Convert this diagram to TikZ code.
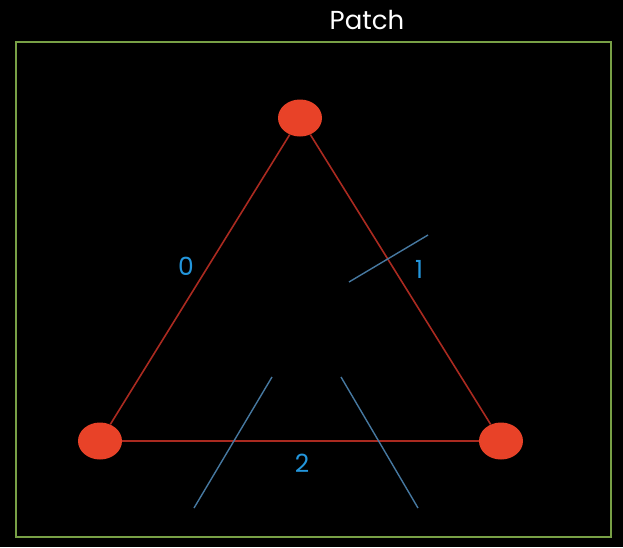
\documentclass[tikz,border=0pt]{standalone}
\usepackage{fontspec}
\setmainfont{Poppins}
\usetikzlibrary{shapes.geometric}
\definecolor{frame}{RGB}{120,160,70}
\definecolor{edgered}{RGB}{170,42,32}
\definecolor{vertred}{RGB}{232,66,40}
\definecolor{lblblue}{RGB}{35,150,220}
\definecolor{lineblue}{RGB}{70,120,160}
\tikzset{
  vert/.style={ellipse,fill=vertred,minimum width=44pt,minimum height=37pt,inner sep=0pt},
  edge/.style={draw=edgered,line width=1.6pt},
  lbl/.style={text=lblblue,font=\fontsize{25}{25}\selectfont,inner sep=0pt},
  cut/.style={draw=lineblue,line width=1.4pt},
}
\begin{document}
\begin{tikzpicture}[x=1pt,y=-1pt]
\fill[black] (0,0) rectangle (623,547);
\useasboundingbox (0,0) rectangle (623,547);
\node[draw=frame,line width=1.8pt,minimum width=595pt,minimum height=495pt,inner sep=0pt] (patch) at (313.5,289.5) {};
\node[text=white,font=\fontsize{26}{26}\selectfont,inner sep=0pt] (title) at (367,20) {Patch};
\node[vert] (top) at (300,118) {};
\node[vert] (bl) at (100,441) {};
\node[vert] (br) at (501,441) {};
\draw[edge] (top) -- (bl);
\draw[edge] (top) -- (br);
\draw[edge] (bl) -- (br);
\node[lbl] (l0) at (186,266) {0};
\node[lbl] (l1) at (419,269) {1};
\node[lbl] (l2) at (302,463) {2};
\coordinate (c1a) at (428,235);
\coordinate (c1b) at (349,282);
\coordinate (c2a) at (272,377);
\coordinate (c2b) at (194,508);
\coordinate (c3a) at (341,377);
\coordinate (c3b) at (418,508);
\draw[cut] (c1a) -- (c1b);
\draw[cut] (c2a) -- (c2b);
\draw[cut] (c3a) -- (c3b);
\end{tikzpicture}
\end{document}
